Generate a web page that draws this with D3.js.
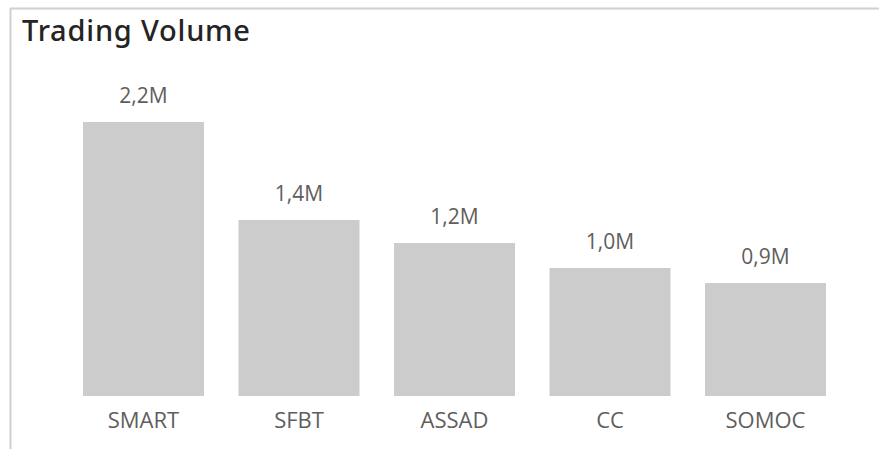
<!DOCTYPE html>
<html>
<head>
<meta charset="utf-8">
<script src="https://cdn.jsdelivr.net/npm/d3@7"></script>
<style>
  html, body { margin: 0; padding: 0; background: #fff; }
  svg { display: block; }
</style>
</head>
<body>
<svg id="chart" width="879" height="449"></svg>
<script>
const title = "Trading Volume";
const categories = ["SMART", "SFBT", "ASSAD", "CC", "SOMOC"];
const volumes = [2200000, 1413000, 1228000, 1028000, 907000];

const W = 879, H = 449;
const svg = d3.select("#chart");

// panel border (top and left)
svg.append("line").attr("x1", 10).attr("x2", W).attr("y1", 8.5).attr("y2", 8.5)
  .attr("stroke", "#d0d0d0").attr("stroke-width", 2);
svg.append("line").attr("x1", 10.5).attr("x2", 10.5).attr("y1", 8).attr("y2", H)
  .attr("stroke", "#d0d0d0").attr("stroke-width", 2);

svg.append("text").attr("x", 22).attr("y", 41)
  .attr("font-family", "'Noto Sans', 'Open Sans', sans-serif")
  .attr("font-size", 29).attr("font-weight", 500).attr("fill", "#252423")
  .attr("textLength", 228).attr("lengthAdjust", "spacing")
  .text(title);

const x = d3.scaleBand().domain(categories).range([65.75, 843.25]).paddingInner(0.222).paddingOuter(0.111);
const baseY = 396;
const y = d3.scaleLinear().domain([0, d3.max(volumes)]).range([baseY, 122]);

const data = categories.map((c, i) => ({c, v: volumes[i]}));
const fmt = v => (v / 1e6).toFixed(1).replace(".", ",") + "M";

svg.append("g").selectAll("rect").data(data).join("rect")
  .attr("x", d => x(d.c)).attr("width", x.bandwidth())
  .attr("y", d => y(d.v)).attr("height", d => baseY - y(d.v))
  .attr("fill", "#cccccc");

svg.append("g").selectAll("text").data(data).join("text")
  .attr("x", d => x(d.c) + x.bandwidth() / 2)
  .attr("y", d => y(d.v) - 19)
  .attr("text-anchor", "middle")
  .attr("font-family", "'Open Sans', sans-serif").attr("font-size", 21)
  .attr("fill", "#605e5c")
  .text(d => fmt(d.v));

const xAxis = svg.append("g").attr("transform", `translate(0,${baseY})`)
  .call(d3.axisBottom(x).tickSize(0).tickPadding(32));
xAxis.select(".domain").remove();
xAxis.selectAll("text").attr("font-family", "'Open Sans', sans-serif")
  .attr("font-size", 22).attr("fill", "#605e5c").attr("dy", 0);
</script>
</body>
</html>
